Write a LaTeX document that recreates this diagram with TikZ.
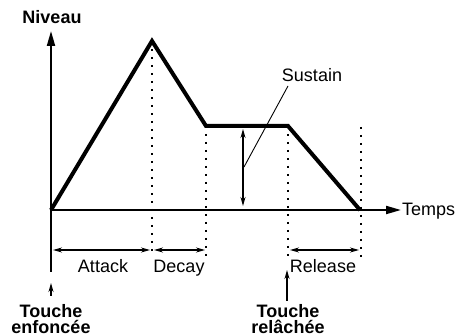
\documentclass[tikz,border=0pt]{standalone}
\usepackage{fontspec}
\setmainfont{Liberation Sans}
\usetikzlibrary{arrows.meta}
\begin{document}
\begin{tikzpicture}[x=1pt,y=-1pt,
  font=\fontsize{18}{16}\selectfont,
  lbl/.style={anchor=base,inner sep=0pt},
  blbl/.style={anchor=base,inner sep=0pt,font=\fontsize{18}{16}\selectfont\bfseries},
  twoline/.style={anchor=base,inner sep=0pt,align=center,font=\fontsize{18}{16}\selectfont\bfseries},
  axis/.style={line width=2pt,-{Triangle[length=15pt,width=8pt]}},
  env/.style={line width=4pt,line join=miter},
  dotline/.style={line width=2.2pt,dash pattern=on 2.2pt off 5.8pt},
  span/.style={line width=1.3pt,{Stealth[length=9pt,width=5pt]}-{Stealth[length=9pt,width=5pt]}},
  keyarrow/.style={line width=1.3pt,-{Stealth[length=9pt,width=5pt]}}]
\useasboundingbox (0,0) rectangle (468,336);
% key points
\coordinate (O) at (51,210);
\coordinate (P) at (152,41);
\coordinate (S1) at (206,126);
\coordinate (S2) at (288,126);
\coordinate (E) at (360,210);
\coordinate (ytop) at (51,31);
\coordinate (ybot) at (51,272);
\coordinate (xend) at (401,210);
% dotted guides
\coordinate (Pd) at (152,256);
\coordinate (S1d) at (206,256);
\coordinate (S2d) at (288,257);
\coordinate (Et) at (361,127);
\coordinate (Ed) at (361,257);
\draw[dotline] (P) -- (Pd);
\draw[dotline] (S1) -- (S1d);
\draw[dotline] (S2) -- (S2d);
\draw[dotline] (Et) -- (Ed);
% axes
\draw[axis] (ybot) -- (ytop);
\draw[axis] (O) -- (xend);
% envelope
\draw[env] (O) -- (P) -- (S1) -- (S2) -- (E);
% spans
\coordinate (a1) at (53,250); \coordinate (a2) at (150,250);
\coordinate (d1) at (154,250); \coordinate (d2) at (205,250);
\coordinate (r1) at (290,250); \coordinate (r2) at (359,250);
\draw[span] (a1) -- (a2);
\draw[span] (d1) -- (d2);
\draw[span] (r1) -- (r2);
% sustain level
\coordinate (su1) at (243,129); \coordinate (su2) at (243,206);
\draw[span] (su1) -- (su2);
\coordinate (sl1) at (244,167); \coordinate (sl2) at (288,86);
\draw[line width=0.9pt] (sl1) -- (sl2);
% key arrows
\coordinate (k1b) at (51,296); \coordinate (k1t) at (51,283);
\coordinate (k2b) at (287,301); \coordinate (k2t) at (287,270);
\draw[keyarrow] (k1b) -- (k1t);
\draw[keyarrow] (k2b) -- (k2t);
% labels
\node[blbl] (niveau) at (52,24) {Niveau};
\node[lbl,anchor=base west] (temps) at (402,216) {Temps};
\node[lbl] (attack) at (103,273) {Attack};
\node[lbl] (decay) at (179,273) {Decay};
\node[lbl] (release) at (323,273) {Release};
\node[lbl] (sustain) at (312,82) {Sustain};
\node[twoline] (t1) at (51,333) {Touche\\enfoncée};
\node[twoline] (t2) at (288,333) {Touche\\relâchée};
\end{tikzpicture}
\end{document}
